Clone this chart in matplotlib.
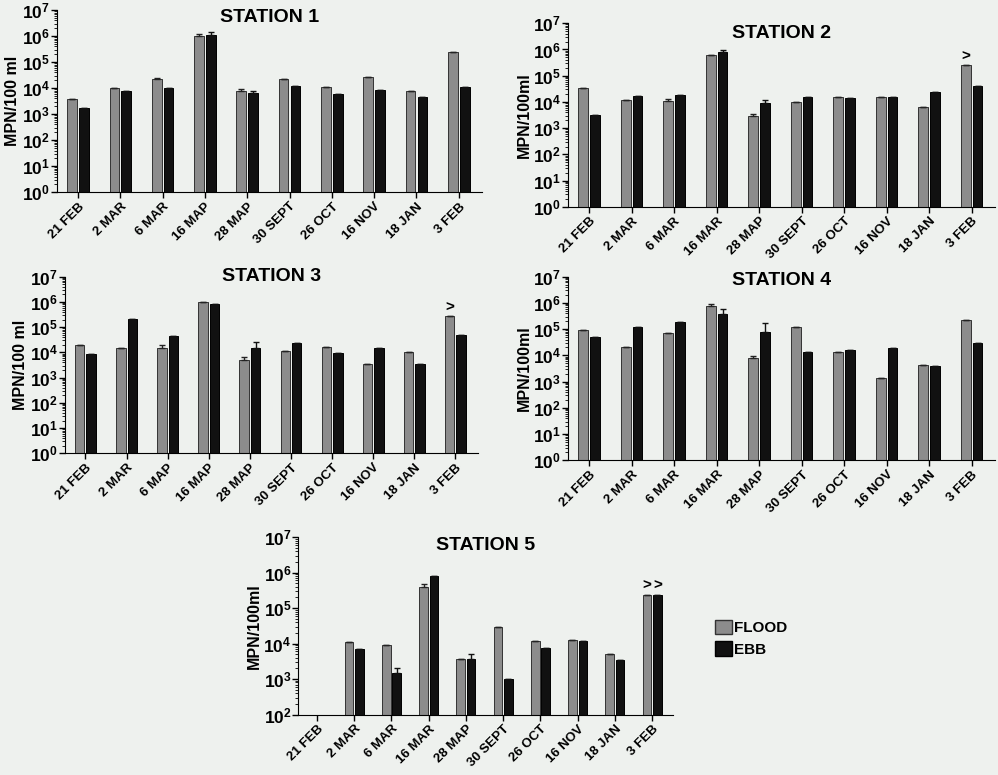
import numpy as np
import matplotlib
matplotlib.use("Agg")
from matplotlib import pyplot as plt
from matplotlib.patches import Patch
from matplotlib.ticker import LogLocator, FixedLocator

datas = ["21 FEB", "2 MAR", "6 MAR", "16 MAR", "28 MAR", "30 SEPT", "26 OCT", "16 NOV", "18 JAN", "3 FEB"]

# rotulos como aparecem em cada painel (escaneado)
rotulos1 = ["21 FEB", "2 MAR", "6 MAR", "16 MAP", "28 MAP", "30 SEPT", "26 OCT", "16 NOV", "18 JAN", "3 FEB"]
rotulos2 = ["21 FEB", "2 MAR", "6 MAR", "16 MAR", "28 MAP", "30 SEPT", "26 OCT", "16 NOV", "18 JAN", "3 FEB"]
rotulos3 = ["21 FEB", "2 MAR", "6 MAP", "16 MAP", "28 MAP", "30 SEPT", "26 OCT", "16 NOV", "18 JAN", "3 FEB"]
rotulos4 = ["21 FEB", "2 MAR", "6 MAR", "16 MAR", "28 MAP", "30 SEPT", "26 OCT", "16 NOV", "18 JAN", "3 FEB"]
rotulos5 = ["21 FEB", "2 MAR", "6 MAR", "16 MAR", "28 MAP", "30 SEPT", "26 OCT", "16 NOV", "18 JAN", "3 FEB"]

# MPN/100 ml - mare enchente (flood) e vazante (ebb)
flood1 = [3700, 10500, 23000, 1.0e6, 7800, 23000, 11500, 26000, 7600, 2.5e5]
ebb1 = [1700, 7800, 10000, 1.07e6, 6300, 11700, 6000, 8700, 4500, 11000]
flood1_max = [None, None, 25000, 1.25e6, 9500, None, None, None, None, None]
ebb1_max = [None, None, None, 1.45e6, 7800, None, None, None, None, None]

flood2 = [35000, 11500, 11000, 6.2e5, 2900, 10000, 15000, 16000, 6600, 2.6e5]
ebb2 = [3200, 17000, 18000, 8.0e5, 9000, 16000, 14000, 16000, 25000, 39000]
flood2_max = [None, None, 12600, None, 3400, None, None, None, None, None]
ebb2_max = [None, None, None, 9.7e5, 11500, None, None, None, None, None]

flood3 = [19000, 15500, 15000, 9.5e5, 5100, 11000, 17000, 3400, 10500, 2.7e5]
ebb3 = [8500, 2.1e5, 45000, 8.2e5, 15000, 24000, 9800, 15000, 3400, 51000]
flood3_max = [None, None, 19000, None, 6400, None, None, None, None, None]
ebb3_max = [None, None, None, None, 26000, None, None, None, None, None]

flood4 = [93000, 21000, 69000, 7.7e5, 7900, 1.2e5, 14000, 1400, 4400, 2.2e5]
ebb4 = [52000, 1.25e5, 1.8e5, 3.8e5, 78000, 13000, 15500, 18500, 4000, 29000]
flood4_max = [None, None, None, 9.4e5, 9400, None, None, None, None, None]
ebb4_max = [None, None, None, 6.0e5, 1.66e5, None, None, None, None, None]

flood5 = [np.nan, 11000, 9100, 4.0e5, 3600, 29000, 12000, 13000, 5000, 2.4e5]
ebb5 = [np.nan, 7100, 1450, 7.9e5, 3700, 980, 7700, 12000, 3500, 2.4e5]
flood5_max = [None, None, None, 4.8e5, None, None, None, None, None, None]
ebb5_max = [None, None, 2000, None, 5000, None, None, None, None, None]

# barras marcadas com ">" (valor maior que o limite)
maior1 = ([], [])
maior2 = ([9], [])
maior3 = ([9], [])
maior4 = ([], [])
maior5 = ([9], [9])

cor_fundo = "#eef1ee"
cor_flood = "#8c8c8c"
cor_ebb = "#111111"


def erro_sup(valores, maximos):
    return [[0] * len(valores), [0 if m is None else m - v for v, m in zip(valores, maximos)]]


def desenhar_estacao(ax, titulo, rotulos, flood, ebb, flood_max, ebb_max, maior, ylabel, dec_min, ty):
    ymin = 10.0 ** dec_min
    x = np.arange(len(rotulos))
    larg = 0.23
    ax.set_facecolor(cor_fundo)
    ax.bar(x - 0.14, flood, larg, color=cor_flood, edgecolor="#333333", linewidth=0.7,
           yerr=erro_sup(flood, flood_max),
           error_kw=dict(ecolor="#222222", elinewidth=1, capsize=2, capthick=1), zorder=2)
    ax.bar(x + 0.14, ebb, larg, color=cor_ebb, edgecolor="#000000", linewidth=0.7,
           yerr=erro_sup(ebb, ebb_max),
           error_kw=dict(ecolor="#111111", elinewidth=1, capsize=2, capthick=1), zorder=2)
    for i in maior[0]:
        ax.text(x[i] - 0.14, flood[i] * 1.1, ">", ha="center", va="bottom", fontsize=11, fontweight="bold")
    for i in maior[1]:
        ax.text(x[i] + 0.14, ebb[i] * 1.1, ">", ha="center", va="bottom", fontsize=11, fontweight="bold")

    ax.set_yscale("log")
    ax.set_ylim(ymin, 1e7)
    ax.yaxis.set_major_locator(FixedLocator([10.0 ** d for d in range(dec_min, 8)]))
    ax.yaxis.set_minor_locator(LogLocator(base=10, subs=np.arange(2, 10), numticks=20))
    ax.set_xlim(-0.5, len(rotulos) - 0.45)
    ax.set_xticks(x)
    ax.set_xticklabels(rotulos, rotation=45, ha="right", rotation_mode="anchor", fontsize=9.5, fontweight="bold")
    ax.tick_params(axis="x", length=4, width=1, direction="out", pad=2)
    ax.tick_params(axis="y", which="major", length=4, width=1, labelsize=12.5, pad=1)
    ax.tick_params(axis="y", which="minor", length=2, width=0.6)
    ax.set_yticklabels([f"$10^{{{d}}}$" for d in range(dec_min, 8)])
    ax.set_ylabel(ylabel, fontsize=11.5, fontweight="bold", labelpad=1)
    ax.spines["top"].set_visible(False)
    ax.spines["right"].set_visible(False)
    ax.text(0.5, ty, titulo, transform=ax.transAxes, ha="center", va="center", fontsize=14, fontweight="bold")


plt.rcParams["font.family"] = ["Liberation Sans", "DejaVu Sans"]
plt.rcParams["mathtext.fontset"] = "custom"
plt.rcParams["mathtext.bf"] = "Liberation Sans:bold"
plt.rcParams["mathtext.rm"] = "Liberation Sans:bold"
plt.rcParams["mathtext.default"] = "bf"
fig = plt.figure(figsize=(9.98, 7.75), dpi=100, facecolor=cor_fundo)

ax1 = fig.add_axes([0.057, 0.752, 0.426, 0.235])
ax2 = fig.add_axes([0.569, 0.733, 0.428, 0.237])
ax3 = fig.add_axes([0.065, 0.415, 0.414, 0.228])
ax4 = fig.add_axes([0.569, 0.406, 0.428, 0.237])
ax5 = fig.add_axes([0.299, 0.078, 0.375, 0.229])

desenhar_estacao(ax1, "STATION 1", rotulos1, flood1, ebb1, flood1_max, ebb1_max, maior1, "MPN/100 ml", 0, 0.96)
desenhar_estacao(ax2, "STATION 2", rotulos2, flood2, ebb2, flood2_max, ebb2_max, maior2, "MPN/100ml", 0, 0.945)
desenhar_estacao(ax3, "STATION 3", rotulos3, flood3, ebb3, flood3_max, ebb3_max, maior3, "MPN/100 ml", 0, 1.0)
desenhar_estacao(ax4, "STATION 4", rotulos4, flood4, ebb4, flood4_max, ebb4_max, maior4, "MPN/100ml", 0, 0.98)
desenhar_estacao(ax5, "STATION 5", rotulos5, flood5, ebb5, flood5_max, ebb5_max, maior5, "MPN/100ml", 2, 0.955)

fig.legend(handles=[Patch(facecolor=cor_flood, edgecolor="#333333", label="FLOOD"),
                    Patch(facecolor=cor_ebb, edgecolor="#000000", label="EBB")],
           loc="upper left", bbox_to_anchor=(0.703, 0.218), frameon=False,
           prop=dict(weight="bold", size=11), handlelength=1.1, handleheight=1.1,
           handletextpad=0.1, labelspacing=0.4)

fig.savefig("out.png", dpi=100, facecolor=cor_fundo)
